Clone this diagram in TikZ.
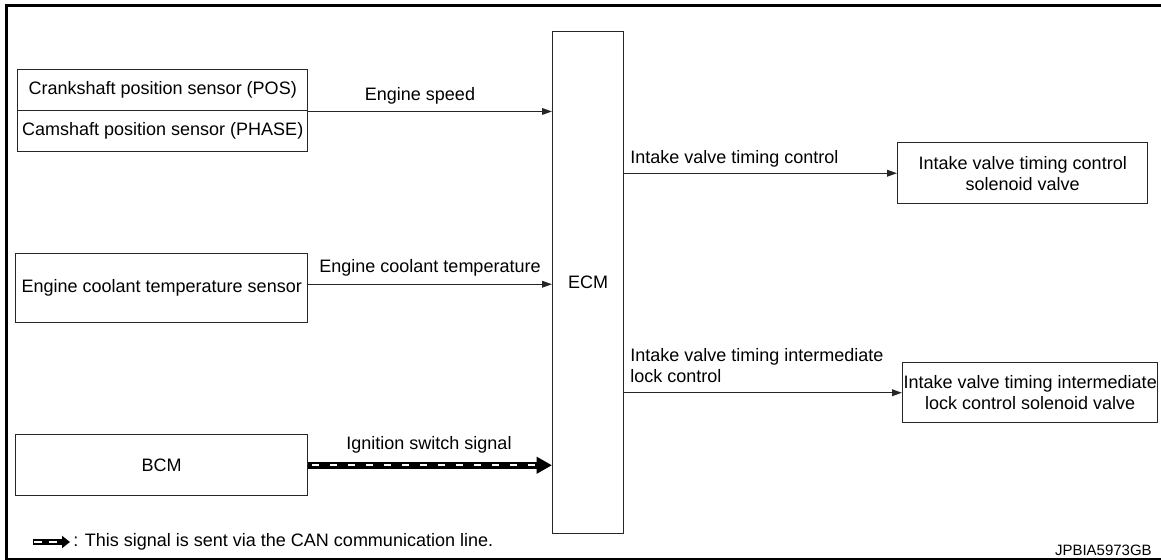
\documentclass[tikz,border=0pt]{standalone}
\usepackage{fontspec}
\setmainfont{Liberation Sans}
\usetikzlibrary{arrows.meta}
\begin{document}
\begin{tikzpicture}[x=0.75pt,y=-0.75pt,
  box/.style={draw=black!85,line width=1.1pt,inner sep=0pt,align=center,anchor=north west,
    font=\fontsize{13.5}{15.75}\selectfont},
  lbl/.style={inner sep=0pt,font=\fontsize{13.5}{15.75}\selectfont,align=left},
  sig/.style={draw=black!85,line width=1.1pt,-{Triangle[length=7.5pt,width=5pt]}},
  canbase/.style={draw=black,line width=5pt},
  candash/.style={draw=white,line width=1.8pt,dash pattern=on 5.25pt off 8.25pt},
]
\useasboundingbox (0,0) rectangle (1161,560);
% frame
\draw[line width=2.2pt] (6.5,560) -- (6.5,5.5) -- (1161,5.5);
\draw[line width=1.5pt] (5,559) -- (1161,559);

% boxes
\node[box,minimum width=217.5pt,minimum height=30.75pt] (crank) at (17,69) {Crankshaft position sensor (POS)};
\node[box,minimum width=217.5pt,minimum height=30.75pt] (cam) at (17,110) {Camshaft position sensor (PHASE)};
\node[box,minimum width=53.25pt,minimum height=376.5pt] (ecm) at (552,31) {ECM};
\node[box,minimum width=219pt,minimum height=51.75pt] (ect) at (15,253) {Engine coolant temperature sensor};
\node[box,minimum width=219pt,minimum height=45.75pt] (bcm) at (15,434) {BCM};
\node[box,minimum width=187.5pt,minimum height=45.75pt] (ivt) at (897,142) {Intake valve timing control\\solenoid valve};
\node[box,minimum width=191.25pt,minimum height=45pt] (ivtil) at (902,362) {Intake valve timing intermediate\\lock control solenoid valve};

% connectors
\draw[sig] (crank.south east) -- (crank.south east -| ecm.west);
\draw[sig] ([yshift=3pt]ect.east) -- ([yshift=3pt]ect.east -| ecm.west);
\draw[sig] (ivt.west -| ecm.east) -- (ivt.west);
\draw[sig] (ivtil.west -| ecm.east) -- (ivtil.west);

% CAN arrow
\draw[canbase,-{Triangle[length=11.5pt,width=12pt]}] (bcm.east) -- (bcm.east -| ecm.west);
\draw[candash,shorten <=3pt,shorten >=13pt] (bcm.east) -- (bcm.east -| ecm.west);

% labels
\node[lbl] (l1) at (420,96) {Engine speed};
\node[lbl] (l2) at (430,268) {Engine coolant temperature};
\node[lbl] (l3) at (429,445) {Ignition switch signal};
\node[lbl,anchor=west] (l4) at (630,159) {Intake valve timing control};
\node[lbl,anchor=west] (l5) at (630,366) {Intake valve timing intermediate\\lock control};

% legend
\coordinate (lg1) at (33,542);
\coordinate (lg2) at (70,542);
\draw[draw=black,line width=4.5pt,-{Triangle[length=6pt,width=9pt]}] (lg1) -- (lg2);
\draw[draw=white,line width=1.8pt,dash pattern=on 6pt off 5pt,shorten <=0.8pt,shorten >=7pt] (lg1) -- (lg2);
\node[lbl,anchor=west] (lgt) at (73,542) {: This signal is sent via the CAN communication line.};

\node[inner sep=0pt,anchor=east,font=\fontsize{11.25}{13}\selectfont] (code) at (1152,550) {JPBIA5973GB};
\end{tikzpicture}
\end{document}
